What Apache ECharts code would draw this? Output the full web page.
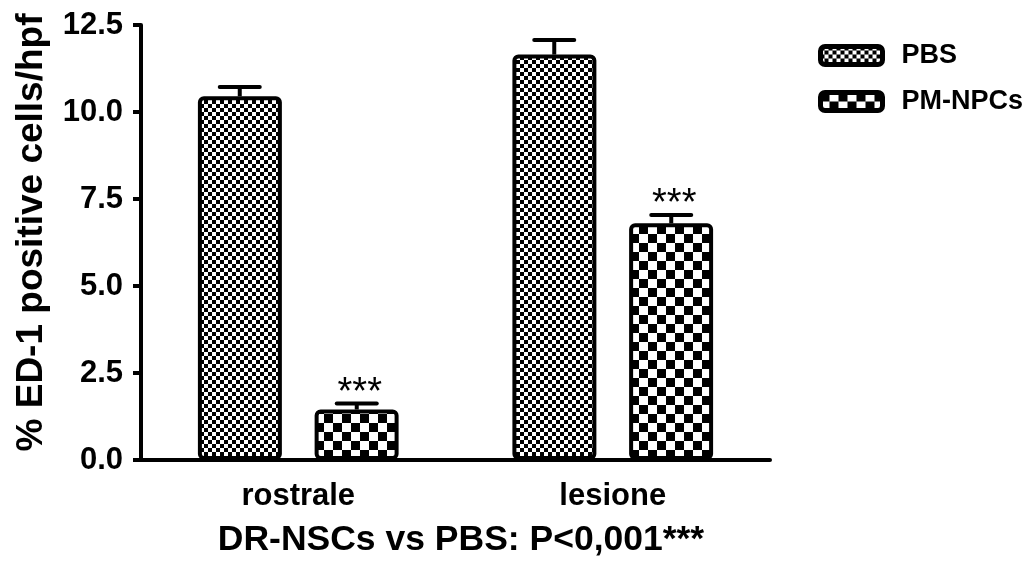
<!DOCTYPE html>
<html>
<head>
<meta charset="utf-8">
<script src="https://cdn.jsdelivr.net/npm/echarts@6/dist/echarts.min.js"></script>
<style>
html,body{margin:0;padding:0;background:#fff;}
#chart{width:1028px;height:567px;}
</style>
</head>
<body>
<div id="chart"></div>
<script>
const categories = ['rostrale', 'lesione'];
const seriesNames = ['PBS', 'PM-NPCs'];
const pbsValues = [10.45, 11.65];
const pbsErrors = [0.27, 0.42];
const npcValues = [1.45, 6.8];
const npcErrors = [0.17, 0.24];
const npcStars = ['***', '***'];
const yTicks = [0, 2.5, 5, 7.5, 10, 12.5];

function checker(cell) {
  const c = document.createElement('canvas');
  c.width = cell * 2; c.height = cell * 2;
  const g = c.getContext('2d');
  g.fillStyle = '#fff'; g.fillRect(0, 0, cell * 2, cell * 2);
  g.fillStyle = '#000';
  g.fillRect(0, 0, cell, cell);
  g.fillRect(cell, cell, cell, cell);
  return c;
}
const finePattern = { image: checker(4), repeat: 'repeat' };
const coarsePattern = { image: checker(9), repeat: 'repeat' };

const FONT = '"Liberation Sans", Arial, sans-serif';
const chart = echarts.init(document.getElementById('chart'), null, { renderer: 'canvas' });

const BAND_OFFSET = 0.186; // bar centre offset from category centre, fraction of band

function errorSeries(name, values, errors, sign, stars) {
  return {
    type: 'custom',
    name: name + ' err',
    z: 1,
    silent: true,
    data: values.map((v, i) => [i, v, v + errors[i]]),
    renderItem: function (params, api) {
      const band = api.size([1, 0])[0];
      const base = api.coord([api.value(0), api.value(1)]);
      const top = api.coord([api.value(0), api.value(2)]);
      const x = base[0] + sign * band * BAND_OFFSET;
      const half = 20;
      const children = [
        { type: 'line', shape: { x1: x, y1: base[1], x2: x, y2: top[1] }, style: { stroke: '#000', lineWidth: 4 } },
        { type: 'line', shape: { x1: x - half, y1: top[1], x2: x + half, y2: top[1] }, style: { stroke: '#000', lineWidth: 4, lineCap: 'round' } }
      ];
      if (stars) {
        children.push({ type: 'text', style: { text: stars[params.dataIndex], x: x + 3, y: top[1] - 10, align: 'center', verticalAlign: 'middle', font: '38px ' + FONT, fill: '#000' } });
      }
      return { type: 'group', children: children };
    }
  };
}

chart.setOption({
  animation: false,
  backgroundColor: '#fff',
  grid: { left: 141, right: 258, top: 25, bottom: 107, containLabel: false },
  legend: {
    orient: 'vertical',
    left: 813, top: 37,
    itemWidth: 62, itemHeight: 18, itemGap: 19,
    data: seriesNames,
    itemStyle: { borderWidth: 5 },
    textStyle: { fontFamily: FONT, fontWeight: 'bold', fontSize: 27, color: '#000', padding: [0, 0, 0, 14] }
  },
  xAxis: {
    type: 'category',
    data: categories,
    name: 'DR-NSCs vs PBS: P<0,001***',
    nameLocation: 'middle',
    nameGap: 62,
    nameTextStyle: { fontFamily: FONT, fontWeight: 'bold', fontSize: 35.5, color: '#000', padding: [0, 0, 0, 11] },
    axisLine: { lineStyle: { color: '#000', width: 4 } },
    axisTick: { alignWithLabel: true, length: 9, lineStyle: { color: '#000', width: 4 } },
    axisLabel: { fontFamily: FONT, fontWeight: 'bold', fontSize: 31, color: '#000', margin: 21 },
    splitLine: { show: false }
  },
  yAxis: {
    type: 'value',
    min: 0, max: 12.5, interval: 2.5,
    name: '% ED-1 positive cells/hpf',
    nameLocation: 'middle',
    nameGap: 91,
    nameTextStyle: { fontFamily: FONT, fontWeight: 'bold', fontSize: 37, color: '#000', padding: [0, 0, 0, 20] },
    axisLine: { show: true, lineStyle: { color: '#000', width: 4 } },
    axisTick: { show: true, length: 8, lineStyle: { color: '#000', width: 4 } },
    axisLabel: { fontFamily: FONT, fontWeight: 'bold', fontSize: 31, color: '#000', margin: 18,
      formatter: v => yTicks.includes(v) ? v.toFixed(1) : '' },
    splitLine: { show: false }
  },
  series: [
    {
      type: 'bar', name: seriesNames[0], data: pbsValues,
      barWidth: '26.7%', barGap: '39%', z: 2,
      itemStyle: { color: finePattern, borderColor: '#000', borderWidth: 4, borderRadius: 4 }
    },
    {
      type: 'bar', name: seriesNames[1], data: npcValues,
      barWidth: '26.7%', barGap: '39%', z: 2,
      itemStyle: { color: coarsePattern, borderColor: '#000', borderWidth: 4, borderRadius: 4 }
    },
    errorSeries('PBS', pbsValues, pbsErrors, -1, null),
    errorSeries('PM-NPCs', npcValues, npcErrors, 1, npcStars)
  ]
});
</script>
</body>
</html>
